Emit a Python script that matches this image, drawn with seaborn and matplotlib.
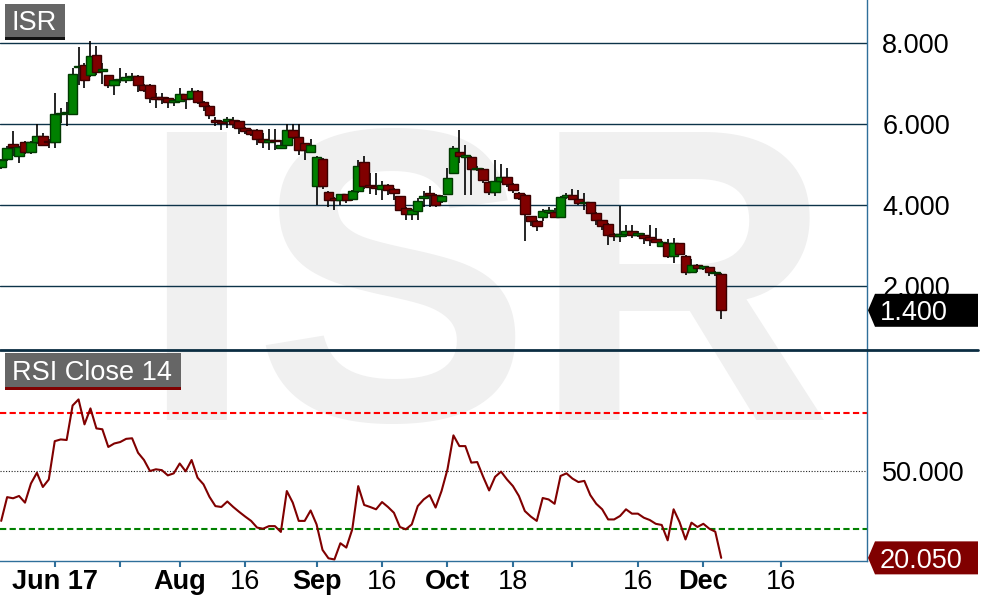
import numpy as np
import pandas as pd
import seaborn as sns
import matplotlib.pyplot as plt
from matplotlib.patches import Rectangle, Polygon
from matplotlib.lines import Line2D

# daily candles
opens = [4.93, 5.13, 5.50, 5.22, 5.56, 5.30, 5.55, 5.70, 5.58, 5.56,
         6.24, 6.26, 6.24, 7.40, 7.45, 7.20, 7.70, 7.31, 7.20, 6.96,
         7.08, 7.09, 7.16, 7.18, 6.96, 6.96, 6.65, 6.64, 6.63, 6.55,
         6.56, 6.73, 6.64, 6.81, 6.54, 6.44, 6.10, 6.07, 6.08, 6.10,
         6.07, 5.90, 5.86, 5.86, 5.63, 5.56, 5.61, 5.41, 5.49, 5.86,
         5.68, 5.52, 5.30, 4.46, 5.14, 4.33, 4.17, 4.12, 4.27, 4.15,
         4.35, 5.07, 4.50, 4.46, 4.40, 4.50, 4.40, 4.21, 3.93, 3.78,
         3.86, 4.17, 4.30, 4.24, 4.10, 4.28, 4.79, 5.31, 5.19, 5.19,
         4.88, 4.89, 4.56, 4.32, 4.58, 4.69, 4.52, 4.30, 4.25, 3.72,
         3.60, 3.70, 3.83, 3.83, 3.70, 4.20, 4.25, 4.15, 4.05, 4.07,
         3.80, 3.62, 3.53, 3.28, 3.24, 3.29, 3.36, 3.26, 3.27, 3.21,
         3.16, 2.98, 3.06, 2.75, 3.05, 2.75, 2.35, 2.53, 2.45, 2.47,
         2.32, 2.30]
highs = [5.14, 5.45, 5.82, 5.45, 5.58, 5.58, 6.00, 5.78, 5.62, 6.76,
         6.40, 6.55, 7.39, 7.89, 7.50, 8.05, 7.93, 7.51, 7.22, 7.10,
         7.39, 7.26, 7.26, 7.20, 6.98, 6.98, 6.76, 6.76, 6.66, 6.62,
         6.88, 6.75, 6.89, 6.83, 6.56, 6.46, 6.17, 6.10, 6.17, 6.17,
         6.09, 5.92, 5.88, 5.88, 5.78, 5.88, 5.88, 5.60, 6.00, 6.00,
         6.00, 5.53, 5.62, 5.20, 5.15, 4.34, 4.20, 4.28, 4.28, 4.38,
         5.10, 5.22, 4.79, 4.80, 4.58, 4.52, 4.42, 4.22, 3.95, 3.90,
         4.17, 4.34, 4.48, 4.26, 4.24, 4.91, 5.45, 5.84, 5.47, 5.21,
         4.95, 4.91, 4.58, 5.10, 5.01, 4.91, 4.54, 4.32, 4.27, 3.74,
         3.62, 3.90, 3.95, 3.93, 4.23, 4.30, 4.40, 4.38, 4.30, 4.08,
         3.82, 3.64, 3.55, 3.30, 3.98, 3.50, 3.50, 3.35, 3.30, 3.51,
         3.42, 3.10, 3.16, 3.19, 3.06, 2.77, 2.67, 2.55, 2.50, 2.48,
         2.36, 2.31]
lows = [4.90, 5.08, 5.20, 5.03, 5.25, 5.25, 5.50, 5.45, 5.40, 5.40,
        6.02, 5.96, 6.21, 6.96, 6.88, 7.15, 7.20, 6.98, 6.88, 6.72,
        7.00, 7.00, 7.05, 6.80, 6.80, 6.51, 6.40, 6.50, 6.40, 6.45,
        6.54, 6.38, 6.60, 6.50, 6.31, 6.12, 5.96, 5.84, 5.90, 5.90,
        5.75, 5.75, 5.70, 5.49, 5.41, 5.35, 5.35, 5.40, 5.47, 5.64,
        5.24, 5.12, 5.28, 4.00, 4.40, 3.95, 3.88, 4.00, 4.05, 4.10,
        4.30, 4.40, 4.26, 4.24, 4.13, 4.25, 4.13, 3.84, 3.64, 3.64,
        3.64, 3.96, 3.96, 3.96, 4.05, 4.26, 4.77, 5.04, 4.25, 4.25,
        4.85, 4.54, 4.25, 4.21, 4.55, 4.45, 4.30, 4.13, 3.10, 3.47,
        3.35, 3.60, 3.78, 3.68, 3.68, 4.15, 4.12, 4.00, 3.88, 3.78,
        3.50, 3.39, 3.00, 3.10, 3.08, 3.20, 3.18, 3.20, 3.04, 2.98,
        3.05, 2.97, 2.69, 2.58, 2.77, 2.28, 2.33, 2.35, 2.40, 2.24,
        2.24, 1.19]
closes = [5.11, 5.40, 5.42, 5.42, 5.30, 5.55, 5.70, 5.47, 5.55, 6.24,
          6.27, 6.29, 7.23, 7.44, 7.08, 7.67, 7.29, 7.34, 6.96, 7.08,
          7.12, 7.16, 7.18, 6.96, 6.84, 6.63, 6.62, 6.62, 6.55, 6.58,
          6.73, 6.62, 6.81, 6.54, 6.44, 6.22, 6.05, 6.02, 6.12, 6.00,
          5.90, 5.82, 5.76, 5.63, 5.55, 5.60, 5.57, 5.49, 5.86, 5.68,
          5.35, 5.35, 5.47, 5.19, 4.46, 4.12, 4.12, 4.27, 4.13, 4.35,
          4.97, 4.48, 4.45, 4.41, 4.50, 4.38, 4.29, 3.88, 3.78, 3.88,
          4.10, 4.21, 4.24, 4.01, 4.21, 4.67, 5.41, 5.20, 5.23, 4.89,
          4.91, 4.61, 4.32, 4.59, 4.69, 4.51, 4.36, 4.16, 3.78, 3.60,
          3.47, 3.84, 3.86, 3.70, 4.20, 4.25, 4.15, 4.05, 4.08, 3.80,
          3.62, 3.47, 3.25, 3.23, 3.29, 3.36, 3.27, 3.30, 3.19, 3.13,
          3.08, 3.08, 2.75, 3.05, 2.79, 2.35, 2.53, 2.44, 2.47, 2.35,
          2.34, 1.40]
rsi = [32.8, 41.0, 40.6, 41.4, 39.1, 45.7, 49.4, 44.5, 47.1, 60.3,
       60.9, 60.7, 72.6, 74.7, 66.1, 71.6, 64.7, 64.4, 58.3, 59.5,
       60.0, 61.1, 61.3, 56.3, 53.8, 50.0, 50.6, 50.3, 48.5, 49.2,
       52.6, 49.9, 53.8, 47.7, 45.4, 41.1, 37.9, 37.6, 39.5, 37.6,
       35.9, 34.3, 32.8, 30.5, 30.1, 31.0, 31.0, 29.0, 43.1, 39.1,
       32.8, 32.8, 36.4, 31.6, 22.8, 19.9, 19.5, 25.1, 23.6, 29.9,
       44.8, 38.3, 37.6, 36.8, 39.3, 37.6, 35.6, 30.7, 29.9, 31.6,
       37.9, 40.2, 41.7, 37.4, 43.1, 50.6, 62.3, 58.6, 58.6, 52.9,
       53.1, 48.0, 43.3, 48.0, 49.8, 47.1, 44.8, 41.4, 36.2, 34.3,
       32.8, 40.7, 40.2, 38.7, 48.3, 49.2, 47.4, 46.2, 46.6, 41.7,
       38.7, 36.8, 33.3, 33.3, 34.5, 36.8, 35.3, 35.3, 33.9, 33.1,
       31.8, 31.4, 26.1, 36.8, 32.4, 26.4, 32.2, 30.7, 31.8, 30.1,
       29.1, 20.05]

tick_idx = [9, 20, 30, 41, 53, 64, 75, 86, 96, 107, 118, 131]
tick_labels = ['Jun 17', '', 'Aug', '16', 'Sep', '16', 'Oct', '18', '', '16', 'Dec', '16']
bold_labels = ['Jun 17', 'Aug', 'Sep', 'Oct', 'Dec']
price_ticks = [2, 4, 6, 8]
rsi_ticks = [50]
rsi_upper, rsi_lower = 70, 30

W, H = 998, 604
NAVY = '#0d3349'
STEEL = '#2f6f9a'
GREEN = '#008000'
RED = '#800000'
FS = 19.5

sns.set_theme(style="white")
plt.rcParams['font.family'] = ['Liberation Sans', 'DejaVu Sans']


def fx(x):
    return x / W


def fy(y):
    return 1 - y / H


df = pd.DataFrame({'open': opens, 'high': highs, 'low': lows, 'close': closes, 'rsi': rsi})
df['i'] = np.arange(len(df))
df['up'] = df['close'] >= df['open']

fig = plt.figure(figsize=(W / 100, H / 100), dpi=100)
fig.patch.set_facecolor('white')

ax = fig.add_axes([0, fy(350), fx(867), 350 / H])
ax2 = fig.add_axes([0, fy(561), fx(867), 210 / H], sharex=ax)
for a in (ax, ax2):
    a.set_facecolor('none')

# watermark
fig.text(fx(485), fy(420), 'ISR', fontsize=300, fontweight='bold', color='#f0f0f0',
         ha='center', va='baseline', zorder=-5)

### Price panel
ax.vlines(df['i'], df['low'], df['high'], color='black', lw=1.2, zorder=2)
body_lo = np.minimum(df['open'], df['close'])
body_h = np.maximum((df['close'] - df['open']).abs(), 0.035)
ax.bar(df['i'], body_h, bottom=body_lo, width=1.6,
       color=np.where(df['up'], GREEN, RED),
       edgecolor=np.where(df['up'], '#003a00', '#3a0000'), lw=1, zorder=3)

ax.set_xlim(-0.2, 145.5)
ax.set_ylim(0.42, 9.06)
ax.yaxis.tick_right()
ax.set_yticks(price_ticks)
ax.set_yticklabels([f'{v:.3f}' for v in price_ticks])
ax.grid(True, axis='y', color=NAVY, lw=1)
ax.grid(False, axis='x')
ax.tick_params(axis='y', length=0, pad=11, labelsize=FS, labelcolor='black')
ax.tick_params(axis='x', length=0, labelbottom=False)
for s in ['top', 'left', 'bottom']:
    ax.spines[s].set_visible(False)
ax.spines['right'].set_color(STEEL)
ax.spines['right'].set_linewidth(1)

### RSI panel
sns.lineplot(data=df, x='i', y='rsi', ax=ax2, color=RED, lw=1.5, zorder=4)
ax2.axhline(50, color='#222222', ls=(0, (1, 1.5)), lw=0.8, zorder=1)
ax2.axhline(rsi_upper, color='#ff0000', ls=(0, (3, 1.6)), lw=1.5, zorder=1)
ax2.axhline(rsi_lower, color=GREEN, ls=(0, (3, 1.6)), lw=1.5, zorder=1)
ax2.set_ylim(18.97, 91.4)
ax2.yaxis.tick_right()
ax2.set_yticks(rsi_ticks)
ax2.set_yticklabels([f'{v:.3f}' for v in rsi_ticks])
ax2.set_xlabel('')
ax2.set_ylabel('')
ax2.grid(False)
ax2.set_xticks(tick_idx)
ax2.set_xticklabels(tick_labels)
for lbl in ax2.get_xticklabels():
    if lbl.get_text() in bold_labels:
        lbl.set_fontweight('bold')
ax2.tick_params(axis='x', direction='out', length=4, width=1.5, color=STEEL,
                pad=2, labelsize=FS, labelcolor='black', bottom=True)
ax2.tick_params(axis='y', length=0, pad=11, labelsize=FS, labelcolor='black')
for s in ['top', 'left']:
    ax2.spines[s].set_visible(False)
for s in ['right', 'bottom']:
    ax2.spines[s].set_color(STEEL)
    ax2.spines[s].set_linewidth(1)

# separator between panels
fig.add_artist(Line2D([0, fx(978)], [fy(350), fy(350)], transform=fig.transFigure,
                      color='#0b2d42', lw=2))

# panel name tags
def name_tag(x0, y0, x1, y1, text, line_color):
    fig.add_artist(Rectangle((fx(x0), fy(y1)), fx(x1 - x0), (y1 - y0) / H,
                             transform=fig.transFigure, facecolor='#666666',
                             edgecolor='none', zorder=6))
    fig.add_artist(Rectangle((fx(x0), fy(y1 + 2.5)), fx(x1 - x0), 2.5 / H,
                             transform=fig.transFigure, facecolor=line_color,
                             edgecolor='none', zorder=6))
    fig.text(fx(x0 + 7), fy((y0 + y1) / 2), text, color='white', fontsize=FS,
             va='center_baseline', ha='left', zorder=7)


name_tag(5, 4, 65, 37, 'ISR', '#111111')
name_tag(5, 353, 181, 387, 'RSI Close 14', RED)


# last value tags on the right scale
def value_tag(a, value, text, color):
    yd = a.transData.transform((0, value))[1]
    yf = fig.transFigure.inverted().transform((0, yd))[1]
    h = 16.5 / H
    x0, xn, x1 = fx(868), fx(875), fx(978)
    fig.add_artist(Polygon([(x0, yf), (xn, yf + h), (x1, yf + h), (x1, yf - h), (xn, yf - h)],
                           closed=True, transform=fig.transFigure, facecolor=color,
                           edgecolor='none', zorder=6))
    fig.text(fx(880), yf, text, color='white', fontsize=FS, va='center_baseline',
             ha='left', zorder=7)


value_tag(ax, closes[-1], f'{closes[-1]:.3f}', 'black')
value_tag(ax2, rsi[-1], f'{rsi[-1]:.3f}', RED)

fig.savefig('out.png', dpi=100, facecolor='white')
